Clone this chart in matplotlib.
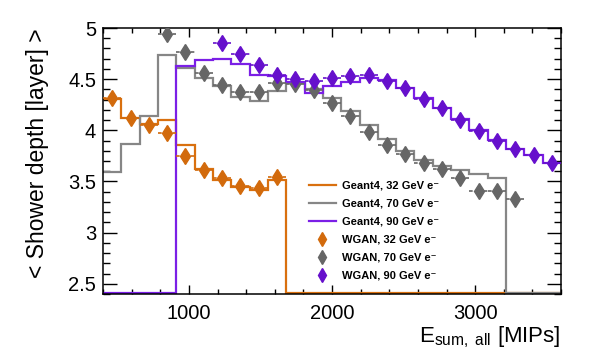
import numpy as np
import matplotlib
matplotlib.use("Agg")
import matplotlib.pyplot as plt
from matplotlib.lines import Line2D
from matplotlib.ticker import MultipleLocator, FormatStrFormatter

plt.rcParams['font.family'] = ['Liberation Sans', 'DejaVu Sans']
plt.rcParams['mathtext.fontset'] = 'custom'
plt.rcParams['mathtext.rm'] = 'Liberation Sans'
plt.rcParams['mathtext.it'] = 'Liberation Sans:italic'

# ---- data ----
bin_start = 400
bin_width = 128
n_bins = 25
nan = np.nan

g4_32 = [4.31, 4.12, 4.06, 4.10, 3.86, 3.625, 3.51, 3.445, 3.42, 3.51] + [0.0] * 15
wgan_32 = [4.32, 4.12, 4.05, 3.97, 3.745, 3.615, 3.535, 3.46, 3.44, 3.545] + [nan] * 15

g4_70 = [3.59, 3.87, 4.14, 4.735, 4.605, 4.51, 4.435, 4.33, 4.29, 4.38, 4.46, 4.40,
         4.317, 4.186, 4.05, 3.915, 3.80, 3.71, 3.65, 3.61, 3.575, 3.535, 0.0, 0.0, 0.0]
wgan_70 = [nan] * 3 + [4.94, 4.77, 4.565, 4.44, 4.37, 4.37, 4.467, 4.457, 4.39, 4.27,
                       4.137, 3.985, 3.86, 3.767, 3.68, 3.62, 3.535, 3.41, 3.405, 3.33] + [nan] * 2

g4_90 = [0.0] * 4 + [4.63, 4.686, 4.70, 4.65, 4.54, 4.53, 4.47, 4.36, 4.43, 4.47, 4.515,
                     4.49, 4.415, 4.32, 4.22, 4.11, 4.007, 3.91, 3.82, 3.755, 3.68]
wgan_90 = [nan] * 6 + [4.853, 4.75, 4.637, 4.545, 4.505, 4.485, 4.512, 4.533, 4.545, 4.48,
                       4.413, 4.31, 4.22, 4.105, 3.99, 3.895, 3.82, 3.755, 3.68]

labels_g4 = ["Geant4, 32 GeV e\u207b", "Geant4, 70 GeV e\u207b", "Geant4, 90 GeV e\u207b"]
labels_wgan = ["WGAN, 32 GeV e\u207b", "WGAN, 70 GeV e\u207b", "WGAN, 90 GeV e\u207b"]

line_colors = ['#d9700f', '#868686', '#7b1fe6']
marker_colors = ['#d26a0c', '#666666', '#6610cc']

xlim = (400, 3600)
ylim = (2.4, 5.0)

# ---- plot ----
fig = plt.figure(figsize=(6.10, 3.59), dpi=100)
ax = fig.add_axes([0.1689, 0.1811, 0.7508, 0.7409])

edges = bin_start + bin_width * np.arange(n_bins + 1)
centers = 0.5 * (edges[:-1] + edges[1:])

for vals, c in zip([g4_32, g4_70, g4_90], line_colors):
    v = np.maximum(np.array(vals, dtype=float), ylim[0] + 0.006)
    ax.stairs(v, edges, color=c, lw=1.6, baseline=None, zorder=2)

for vals, c in zip([wgan_32, wgan_70, wgan_90], marker_colors):
    v = np.array(vals, dtype=float)
    m = ~np.isnan(v)
    ax.hlines(v[m], centers[m] - bin_width / 2, centers[m] + bin_width / 2,
              colors=c, linestyles=(0, (2.2, 2.2)), lw=1.2, zorder=3)
    ax.plot(centers[m], v[m], ls='none', marker='d', ms=8, color=c,
            mec=c, zorder=4)

ax.set_xlim(*xlim)
ax.set_ylim(*ylim)

ax.xaxis.set_major_locator(MultipleLocator(1000))
ax.xaxis.set_minor_locator(MultipleLocator(200))
ax.yaxis.set_major_locator(MultipleLocator(0.5))
ax.yaxis.set_minor_locator(MultipleLocator(0.1))
ax.yaxis.set_major_formatter(FormatStrFormatter('%g'))
ax.tick_params(which='both', direction='in', top=True, right=True, width=1.0)
ax.tick_params(axis='x', which='major', length=6.5, pad=7, labelsize=14.5)
ax.tick_params(axis='x', which='minor', length=3.5)
ax.tick_params(axis='y', which='major', length=10, pad=5, labelsize=14.5)
ax.tick_params(axis='y', which='minor', length=5)
for s in ax.spines.values():
    s.set_linewidth(1.1)

ax.set_xlabel(r"E$_{\mathrm{sum,\ all}}$ [MIPs]", fontsize=16, loc='right', labelpad=1)
ax.set_ylabel("< Shower depth [layer] >", fontsize=16.5, loc='top', labelpad=14)

handles = [Line2D([], [], color=c, lw=1.6) for c in line_colors] + \
          [Line2D([], [], ls='none', marker='d', ms=7.5, color=c) for c in marker_colors]
leg = ax.legend(handles, labels_g4 + labels_wgan, loc='upper left',
                bbox_to_anchor=(0.45, 0.425), frameon=False,
                prop={'size': 8, 'weight': 'bold'}, labelspacing=0.72,
                handlelength=2.4, handletextpad=0.55, borderaxespad=0, borderpad=0)

fig.savefig("out.png", dpi=100)
